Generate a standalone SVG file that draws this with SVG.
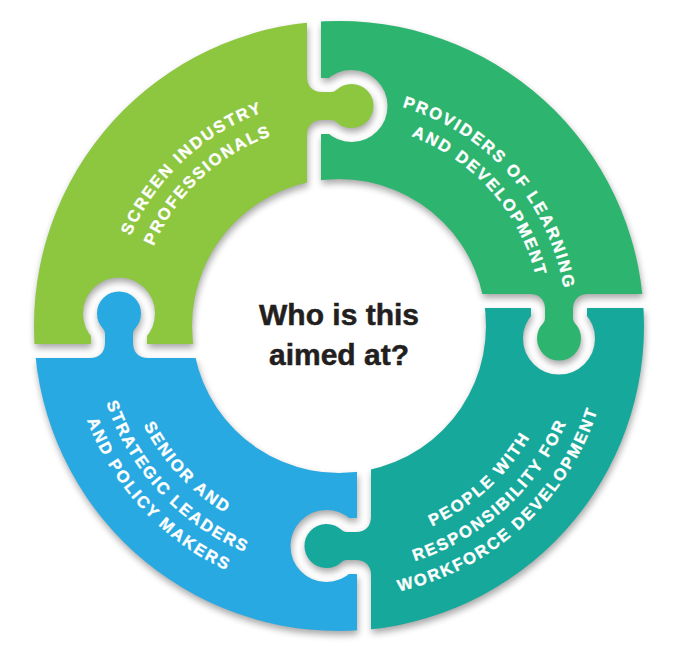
<svg xmlns="http://www.w3.org/2000/svg" xmlns:xlink="http://www.w3.org/1999/xlink" width="676" height="652" viewBox="0 0 676 652">
<style>
.lbl{font-family:"Liberation Sans",Arial,sans-serif;font-weight:700;font-size:16.5px;fill:#fff;stroke:#fff;stroke-width:0.35px;letter-spacing:2px}
.title{font-family:"Liberation Sans",Arial,sans-serif;font-weight:700;font-size:30px;fill:#231f20;stroke:#231f20;stroke-width:0.5px;text-anchor:middle}
</style>
<defs>
<path id="piece" d="M-350,-350 L-25,-350 V-249 Q-25,-241 -17,-241 H-7.5 A29,29 0 1 1 -7.5,-199 H-17 Q-25,-199 -25,-191 V25 H-191 Q-199,25 -199,17 V7.5 A29,29 0 1 0 -241,7.5 V17 Q-241,25 -249,25 H-350 Z"/>
<clipPath id="ring"><path clip-rule="evenodd" d="M-305,0 a305,305 0 1 0 610,0 a305,305 0 1 0 -610,0 Z M-147,0 a147,147 0 1 0 294,0 a147,147 0 1 0 -294,0 Z"/></clipPath>
<mask id="gaps" maskUnits="userSpaceOnUse" x="-400" y="-400" width="800" height="800">
<rect x="-400" y="-400" width="800" height="800" fill="#fff"/>
<g fill="none" stroke="#000" stroke-width="14" stroke-linejoin="round">
<path id="cut" d="M-25,-350 V-249 Q-25,-241 -17,-241 H-7.5 A29,29 0 1 1 -7.5,-199 H-17 Q-25,-199 -25,-191 V-90"/>
<use href="#cut" transform="rotate(90)"/>
<use href="#cut" transform="rotate(180)"/>
<use href="#cut" transform="rotate(270)"/>
</g>
</mask>
<filter id="shadow" x="-10%" y="-10%" width="120%" height="120%">
<feGaussianBlur in="SourceAlpha" stdDeviation="3.5"/>
<feOffset dx="1" dy="4"/>
<feComponentTransfer><feFuncA type="linear" slope="0.35"/></feComponentTransfer>
</filter>
<path id="t1a" d="M148.6,449.6 A227,227 0 0 1 475.6,144.7"/>
<path id="t1b" d="M169.6,436 A202,202 0 0 1 460.6,164.7"/>
<path id="t2a" d="M219.9,131.6 A228,228 0 0 1 517.4,467.9"/>
<path id="t2b" d="M232.9,152.9 A203,203 0 0 1 497.9,452.4"/>
<path id="t3a" d="M204.5,501.3 A221,221 0 0 0 525.4,207.3"/>
<path id="t3b" d="M188.6,522 A247,247 0 0 0 547.3,193.3"/>
<path id="t3c" d="M173.4,541.8 A272,272 0 0 0 568.4,179.9"/>
<path id="t4a" d="M164.1,194.2 A219,219 0 0 0 458.3,509.7"/>
<path id="t4b" d="M143.3,178.6 A245,245 0 0 0 472.4,531.5"/>
<path id="t4c" d="M124.2,164.1 A269,269 0 0 0 485.5,551.6"/>
</defs>
<rect width="676" height="652" fill="#fff"/>
<g id="shadows" filter="url(#shadow)">
<use href="#piece" transform="translate(339 326)" clip-path="url(#ring)" mask="url(#gaps)"/>
<use href="#piece" transform="translate(339 326) rotate(90)" clip-path="url(#ring)" mask="url(#gaps)"/>
<use href="#piece" transform="translate(339 326) rotate(180)" clip-path="url(#ring)" mask="url(#gaps)"/>
<use href="#piece" transform="translate(339 326) rotate(270)" clip-path="url(#ring)" mask="url(#gaps)"/>
</g>
<g id="screen-industry-professionals">
<use href="#piece" transform="translate(339 326)" clip-path="url(#ring)" mask="url(#gaps)" fill="#8DC63F"/>
<text class="lbl"><textPath href="#t1a" startOffset="50%" text-anchor="middle">SCREEN INDUSTRY</textPath></text>
<text class="lbl"><textPath href="#t1b" startOffset="50%" text-anchor="middle">PROFESSIONALS</textPath></text>
</g>
<g id="providers-of-learning">
<use href="#piece" transform="translate(339 326) rotate(90)" clip-path="url(#ring)" mask="url(#gaps)" fill="#2DB46F"/>
<text class="lbl"><textPath href="#t2a" startOffset="50%" text-anchor="middle">PROVIDERS OF LEARNING</textPath></text>
<text class="lbl"><textPath href="#t2b" startOffset="50%" text-anchor="middle">AND DEVELOPMENT</textPath></text>
</g>
<g id="workforce-development">
<use href="#piece" transform="translate(339 326) rotate(180)" clip-path="url(#ring)" mask="url(#gaps)" fill="#16A89A"/>
<text class="lbl"><textPath href="#t3a" startOffset="50%" text-anchor="middle">PEOPLE WITH</textPath></text>
<text class="lbl"><textPath href="#t3b" startOffset="50%" text-anchor="middle">RESPONSIBILITY FOR</textPath></text>
<text class="lbl"><textPath href="#t3c" startOffset="50%" text-anchor="middle">WORKFORCE DEVELOPMENT</textPath></text>
</g>
<g id="senior-leaders">
<use href="#piece" transform="translate(339 326) rotate(270)" clip-path="url(#ring)" mask="url(#gaps)" fill="#28A9E1"/>
<text class="lbl"><textPath href="#t4a" startOffset="50%" text-anchor="middle">SENIOR AND</textPath></text>
<text class="lbl"><textPath href="#t4b" startOffset="50%" text-anchor="middle">STRATEGIC LEADERS</textPath></text>
<text class="lbl"><textPath href="#t4c" startOffset="50%" text-anchor="middle">AND POLICY MAKERS</textPath></text>
</g>
<g id="center">
<text class="title" x="339" y="325">Who is this</text>
<text class="title" x="339" y="365">aimed at?</text>
</g>
</svg>
